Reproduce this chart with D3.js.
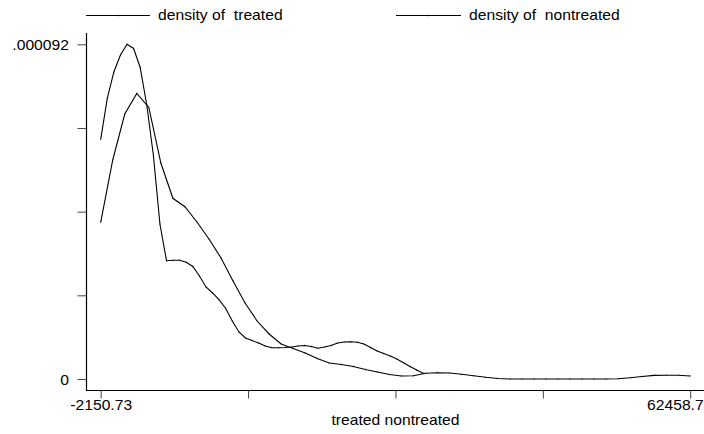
<!DOCTYPE html>
<html>
<head>
<meta charset="utf-8">
<script src="https://cdn.jsdelivr.net/npm/d3@7"></script>
<style>
  body { margin: 0; background: #fff; }
  svg text { font-family: "Liberation Sans", Arial, Helvetica, sans-serif; font-size: 14px; fill: #000; white-space: pre; }
</style>
</head>
<body>
<svg id="chart" width="704" height="434"></svg>
<script>
// Kernel density estimates (50-point grids) for the two groups
const treatedX = [-2151, -1429, -708, 13, 735, 1456, 2177, 2898, 3620, 4341,
  5062, 5784, 6505, 7226, 7948, 8669, 9390, 10111, 10833, 11554,
  12275, 12997, 13718, 14439, 15161, 15882, 16603, 17324, 18046, 18767,
  19488, 20210, 20931, 21652, 22374, 23095, 23816, 24537, 25259, 25980,
  26701, 27423, 28144, 28865, 29587, 30308, 31029, 31750, 32472, 33193];
const treatedDensity = [65.89e-6, 77.16e-6, 84.39e-6, 89.06e-6, 92.00e-6, 90.85e-6, 85.63e-6, 75.32e-6, 61.57e-6, 42.61e-6,
  32.52e-6, 32.63e-6, 32.63e-6, 32.08e-6, 30.92e-6, 28.31e-6, 25.29e-6, 23.64e-6, 21.72e-6, 19.38e-6,
  15.94e-6, 12.92e-6, 11.27e-6, 10.58e-6, 9.90e-6, 9.07e-6, 8.60e-6, 8.60e-6, 8.66e-6, 8.80e-6,
  9.07e-6, 9.21e-6, 8.93e-6, 8.44e-6, 8.80e-6, 9.21e-6, 9.90e-6, 10.17e-6, 10.23e-6, 10.12e-6,
  9.62e-6, 8.66e-6, 7.70e-6, 7.01e-6, 6.32e-6, 5.50e-6, 4.48e-6, 3.44e-6, 2.47e-6, 1.57e-6];

const nontreatedX = [-2151, -832, 486, 1805, 3124, 4442, 5761, 7079, 8398, 9716,
  11035, 12353, 13672, 14991, 16309, 17628, 18946, 20265, 21583, 22902,
  24220, 25539, 26858, 28176, 29495, 30813, 32132, 33450, 34769, 36088,
  37406, 38725, 40043, 41362, 42680, 43999, 45317, 46636, 47955, 49273,
  50592, 51910, 53229, 54547, 55866, 57184, 58503, 59822, 61140, 62459];
const nontreatedDensity = [43.07e-6, 60.20e-6, 72.84e-6, 78.48e-6, 74.63e-6, 59.37e-6, 49.67e-6, 47.36e-6, 43.16e-6, 38.48e-6,
  33.26e-6, 26.94e-6, 20.89e-6, 15.94e-6, 12.37e-6, 9.62e-6, 8.38e-6, 7.15e-6, 5.64e-6, 4.40e-6,
  3.99e-6, 3.44e-6, 2.61e-6, 1.92e-6, 1.24e-6, 0.82e-6, 0.91e-6, 1.57e-6, 1.73e-6, 1.65e-6,
  1.29e-6, 0.88e-6, 0.47e-6, 0.14e-6, 0, 0, 0, 0, 0, 0,
  0, 0, 0, 0.05e-6, 0.33e-6, 0.69e-6, 0.99e-6, 1.04e-6, 1.02e-6, 0.82e-6];

const xTickValues = [-2150.73, 13999.63, 30153.99, 46308.34, 62458.7];
const xTickLabels = ["-2150.73", "", "", "", "62458.7"];
const yTickValues = [0, 0.000023, 0.000046, 0.000069, 0.000092];
const yTickLabels = ["0", "", "", "", ".000092"];
const legendLabels = ["density of  treated", "density of  nontreated"];
const xTitle = "treated nontreated";

const svg = d3.select("#chart");
const stretch = "scale(1.12,1)";

const x = d3.scaleLinear().domain([-2150.73, 62458.7]).range([100.7, 690.2]);
const y = d3.scaleLinear().domain([0, 0.000092]).range([379, 44.3]);

// axis lines bounding the plot region
svg.append("line").attr("x1", 86.5).attr("x2", 86.5).attr("y1", 33).attr("y2", 390.5)
  .attr("stroke", "#000").attr("stroke-width", 1.2);
svg.append("line").attr("x1", 86).attr("x2", 704).attr("y1", 390.5).attr("y2", 390.5)
  .attr("stroke", "#000").attr("stroke-width", 1.2);

// y axis ticks and labels
const yAxis = svg.append("g").attr("transform", "translate(86.5,0)")
  .call(d3.axisLeft(y).tickValues(yTickValues).tickSize(9).tickFormat((d, i) => yTickLabels[i]));
yAxis.select(".domain").remove();
yAxis.selectAll(".tick line").attr("stroke", "#444");
yAxis.selectAll(".tick text")
  .attr("x", null).attr("dy", null).attr("y", 5)
  .attr("font-size", null).attr("font-family", null)
  .attr("transform", "translate(-17.5,0) " + stretch);

// x axis ticks and labels
const xAxis = svg.append("g").attr("transform", "translate(0,390.5)")
  .call(d3.axisBottom(x).tickValues(xTickValues).tickSize(8).tickFormat((d, i) => xTickLabels[i]));
xAxis.select(".domain").remove();
xAxis.selectAll(".tick line").attr("stroke", "#444");
xAxis.selectAll(".tick text")
  .attr("y", 19.5).attr("dy", null)
  .attr("font-size", null).attr("font-family", null)
  .attr("transform", stretch)
  .each(function (d, i) {
    if (i === xTickLabels.length - 1) {
      d3.select(this).attr("text-anchor", "end").attr("transform", "translate(13,0) " + stretch);
    }
  });

// axis title
svg.append("text").attr("text-anchor", "middle")
  .attr("transform", `translate(${(x.range()[0] + x.range()[1]) / 2},425) ${stretch}`)
  .text(xTitle);

// density curves with tiny point markers
const series = [
  { xs: treatedX, ys: treatedDensity },
  { xs: nontreatedX, ys: nontreatedDensity }
];
const line = d3.line().x(d => x(d[0])).y(d => y(d[1]));
series.forEach(s => {
  const pts = s.xs.map((v, i) => [v, s.ys[i]]);
  svg.append("path").datum(pts).attr("d", line)
    .attr("fill", "none").attr("stroke", "#000").attr("stroke-width", 1.1);
  svg.append("g").selectAll("rect").data(pts).join("rect")
    .attr("x", d => x(d[0]) - 0.4).attr("y", d => y(d[1]) - 0.9)
    .attr("width", 0.8).attr("height", 1.8).attr("fill", "#000").attr("opacity", 0.6);
});

// legend
const legendPos = [{ x1: 86, x2: 150, tx: 158 }, { x1: 396, x2: 461, tx: 469 }];
legendLabels.forEach((lab, i) => {
  const p = legendPos[i];
  svg.append("line").attr("x1", p.x1).attr("x2", p.x2).attr("y1", 15.5).attr("y2", 15.5)
    .attr("stroke", "#000").attr("stroke-width", 1.1);
  svg.append("rect").attr("x", (p.x1 + p.x2) / 2 - 0.4).attr("y", 14.6)
    .attr("width", 0.8).attr("height", 1.8).attr("fill", "#000").attr("opacity", 0.6);
  svg.append("text").attr("transform", `translate(${p.tx},20) ${stretch}`).text(lab);
});
</script>
</body>
</html>
